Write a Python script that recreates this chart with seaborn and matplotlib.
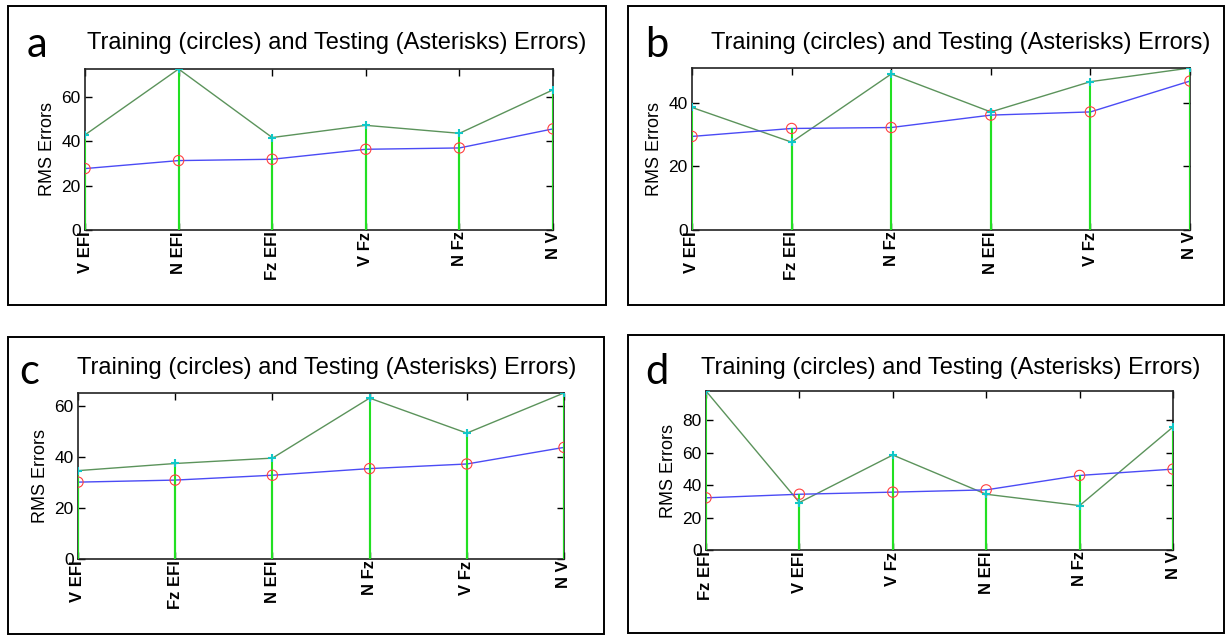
import numpy as np
import pandas as pd
import matplotlib
matplotlib.use("Agg")
import matplotlib.pyplot as plt
from matplotlib.patches import Rectangle
from matplotlib.ticker import MultipleLocator
import seaborn as sns

# ---- data ----
a_cats = ["V EFI", "N EFI", "Fz EFI", "V Fz", "N Fz", "N V"]
a_test = [42.9, 72.6, 41.7, 47.2, 43.6, 63.2]
a_train = [27.7, 31.3, 31.9, 36.4, 37.0, 45.6]

b_cats = ["V EFI", "Fz EFI", "N Fz", "N EFI", "V Fz", "N V"]
b_test = [38.5, 27.6, 49.0, 37.1, 46.6, 50.9]
b_train = [29.4, 31.9, 32.2, 36.1, 37.1, 46.8]

c_cats = ["V EFI", "Fz EFI", "N EFI", "N Fz", "V Fz", "N V"]
c_test = [34.6, 37.4, 39.5, 63.0, 49.3, 65.0]
c_train = [30.1, 30.9, 32.8, 35.4, 37.2, 43.7]

d_cats = ["Fz EFI", "V EFI", "V Fz", "N EFI", "N Fz", "N V"]
d_test = [98.1, 29.3, 58.6, 34.4, 27.4, 75.9]
d_train = [32.2, 34.4, 35.7, 37.1, 46.0, 49.9]

panel_letters = ["a", "b", "c", "d"]
title_text = "Training (circles) and Testing (Asterisks) Errors)"
ylabel_text = "RMS Errors"

sns.set_style("white")
plt.rcParams["font.family"] = ["Liberation Sans", "DejaVu Sans"]
plt.rcParams["text.color"] = "black"
plt.rcParams["axes.labelcolor"] = "black"
plt.rcParams["xtick.color"] = "black"
plt.rcParams["ytick.color"] = "black"

W, H = 1225, 635
fig = plt.figure(figsize=(W / 100, H / 100), dpi=100)

def fx(px):
    return px / W

def fy(py):
    return 1 - py / H

layouts = [
    dict(box=(8, 6, 606, 305), ax=(85, 69, 553, 230), letter=(37, 45), title=(337, 43)),
    dict(box=(628, 6, 1224, 305), ax=(692, 68, 1190, 230), letter=(657, 45), title=(961, 43)),
    dict(box=(8, 337, 604, 634), ax=(78, 393, 564, 559), letter=(29, 372), title=(327, 368)),
    dict(box=(628, 335, 1224, 633), ax=(706, 391, 1173, 550), letter=(657, 372), title=(951, 368)),
]

panels = [
    (a_cats, a_train, a_test),
    (b_cats, b_train, b_test),
    (c_cats, c_train, c_test),
    (d_cats, d_train, d_test),
]

test_line = "#5b935b"
train_line = "#4b4bf5"
stem_col = "#22e022"

for lay, (cats, train, test), letter in zip(layouts, panels, panel_letters):
    bx0, by0, bx1, by1 = lay["box"]
    fig.patches.append(Rectangle((fx(bx0), fy(by1)), fx(bx1 - bx0), (by1 - by0) / H,
                                 transform=fig.transFigure, fill=False,
                                 edgecolor="black", linewidth=1.4, zorder=0))
    l, t, r, b = lay["ax"]
    ax = fig.add_axes([fx(l), fy(b), fx(r - l), (b - t) / H])
    x = np.arange(len(cats))
    df = pd.DataFrame({"x": x, "train": train, "test": test})

    sns.lineplot(data=df, x="x", y="test", ax=ax, color=test_line, linewidth=1.0, zorder=2)
    sns.lineplot(data=df, x="x", y="train", ax=ax, color=train_line, linewidth=1.0, zorder=2)
    ax.vlines(df["x"], 0, df["test"], color=stem_col, linewidth=1.5, zorder=3)
    ax.vlines(df["x"], 0, df["train"], color=stem_col, linewidth=1.5, zorder=3)
    sns.scatterplot(data=df, x="x", y="train", ax=ax, marker="o", s=55,
                    facecolor="none", edgecolor="#ff4040", linewidth=0.8, zorder=4)
    ax.plot(df["x"], df["test"], linestyle="none", marker="+", markersize=6,
            markeredgewidth=1.5, color="#10c8c8", zorder=5)

    ax.set_xlim(x[0], x[-1])
    ax.set_ylim(0, max(test))
    ax.yaxis.set_major_locator(MultipleLocator(20))
    ax.set_xticks(x)
    ax.set_xticklabels(cats, rotation=90, fontweight="bold", fontsize=12,
                       va="top", ha="center")
    ax.tick_params(axis="both", direction="in", length=5, width=1.0,
                   top=True, right=True, bottom=True, left=True, colors="black")
    ax.tick_params(axis="x", pad=1)
    ax.tick_params(axis="y", pad=3, labelsize=12.5)
    ax.set_xlabel("")
    ax.set_ylabel(ylabel_text, fontsize=13, labelpad=4)
    for sp in ax.spines.values():
        sp.set_visible(True)
        sp.set_color("#222222")
        sp.set_linewidth(1.2)
    ax.set_facecolor("white")

    lx, ly = lay["letter"]
    fig.text(fx(lx), fy(ly), letter, fontsize=30, family=["Lato", "DejaVu Sans"],
             ha="center", va="center")
    tx, ty = lay["title"]
    fig.text(fx(tx), fy(ty), title_text, fontsize=17, ha="center", va="center")

fig.savefig("out.png", dpi=100, facecolor="white")
